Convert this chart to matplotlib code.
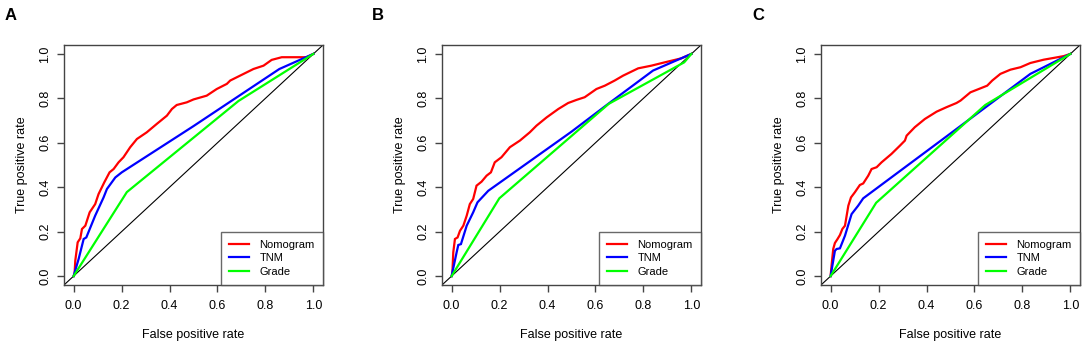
import matplotlib
matplotlib.use("Agg")
import matplotlib.pyplot as plt
from matplotlib.lines import Line2D

plt.rcParams['font.family'] = ['Liberation Sans', 'DejaVu Sans']

panel_labels = ["A", "B", "C"]
series_names = ["Nomogram", "TNM", "Grade"]
series_colors = ["#FF0000", "#0000FF", "#00FF00"]

# Panel A
a_nomo_fpr = [0, 0.004, 0.007, 0.017, 0.028, 0.035, 0.049, 0.067, 0.09, 0.104, 0.128, 0.15, 0.167, 0.1875, 0.208,
              0.236, 0.264, 0.305, 0.347, 0.389, 0.41, 0.43, 0.472, 0.5, 0.555, 0.597, 0.639, 0.653, 0.694, 0.75,
              0.792, 0.826, 0.868, 0.972, 1.0]
a_nomo_tpr = [0, 0.009, 0.069, 0.152, 0.17, 0.212, 0.227, 0.287, 0.324, 0.369, 0.422, 0.467, 0.482, 0.512, 0.535,
              0.58, 0.617, 0.647, 0.685, 0.722, 0.752, 0.77, 0.782, 0.795, 0.812, 0.842, 0.865, 0.88, 0.902, 0.932,
              0.947, 0.973, 0.985, 0.985, 1.0]
a_tnm_fpr = [0, 0.021, 0.042, 0.053, 0.09, 0.125, 0.139, 0.174, 0.201, 0.5, 0.858, 1.0]
a_tnm_tpr = [0, 0.077, 0.167, 0.174, 0.272, 0.354, 0.392, 0.444, 0.467, 0.675, 0.932, 1.0]
a_grade_fpr = [0, 0.222, 0.6875, 1.0]
a_grade_tpr = [0, 0.378, 0.788, 1.0]

# Panel B
b_nomo_fpr = [0, 0.003, 0.007, 0.014, 0.025, 0.035, 0.049, 0.063, 0.076, 0.09, 0.104, 0.125, 0.146, 0.164, 0.18,
              0.208, 0.243, 0.285, 0.326, 0.354, 0.396, 0.445, 0.486, 0.521, 0.555, 0.604, 0.639, 0.68, 0.715,
              0.778, 0.833, 0.889, 0.958, 1.0]
b_nomo_tpr = [0, 0.009, 0.107, 0.167, 0.174, 0.204, 0.227, 0.272, 0.324, 0.347, 0.407, 0.425, 0.452, 0.467, 0.512,
              0.535, 0.58, 0.61, 0.647, 0.677, 0.714, 0.752, 0.779, 0.793, 0.805, 0.842, 0.857, 0.88, 0.902,
              0.935, 0.947, 0.962, 0.98, 1.0]
b_tnm_fpr = [0, 0.021, 0.028, 0.039, 0.063, 0.09, 0.108, 0.153, 0.5, 0.653, 0.84, 1.0]
b_tnm_tpr = [0, 0.107, 0.14, 0.144, 0.227, 0.287, 0.332, 0.384, 0.65, 0.775, 0.925, 1.0]
b_grade_fpr = [0, 0.199, 0.655, 0.97, 1.0]
b_grade_tpr = [0, 0.35, 0.775, 0.962, 1.0]

# Panel C
c_nomo_fpr = [0, 0.004, 0.011, 0.018, 0.029, 0.039, 0.049, 0.06, 0.067, 0.074, 0.085, 0.101, 0.122, 0.136, 0.157,
              0.171, 0.192, 0.2125, 0.254, 0.289, 0.31, 0.317, 0.351, 0.393, 0.442, 0.483, 0.525, 0.542, 0.583,
              0.625, 0.653, 0.674, 0.708, 0.75, 0.792, 0.833, 0.889, 0.931, 0.972, 1.0]
c_nomo_tpr = [0, 0.047, 0.122, 0.149, 0.167, 0.185, 0.212, 0.227, 0.272, 0.317, 0.354, 0.377, 0.41, 0.417, 0.452,
              0.482, 0.49, 0.512, 0.55, 0.587, 0.61, 0.632, 0.67, 0.707, 0.74, 0.76, 0.779, 0.79, 0.827,
              0.845, 0.857, 0.88, 0.91, 0.929, 0.94, 0.959, 0.974, 0.982, 0.99, 1.0]
c_tnm_fpr = [0, 0.018, 0.025, 0.039, 0.06, 0.0875, 0.115, 0.136, 0.5, 0.833, 1.0]
c_tnm_tpr = [0, 0.114, 0.122, 0.125, 0.182, 0.279, 0.317, 0.35, 0.642, 0.91, 1.0]
c_grade_fpr = [0, 0.19, 0.645, 1.0]
c_grade_tpr = [0, 0.33, 0.77, 1.0]

panels = [
    [(a_nomo_fpr, a_nomo_tpr), (a_tnm_fpr, a_tnm_tpr), (a_grade_fpr, a_grade_tpr)],
    [(b_nomo_fpr, b_nomo_tpr), (b_tnm_fpr, b_tnm_tpr), (b_grade_fpr, b_grade_tpr)],
    [(c_nomo_fpr, c_nomo_tpr), (c_tnm_fpr, c_tnm_tpr), (c_grade_fpr, c_grade_tpr)],
]

W, H = 1084, 343
fig = plt.figure(figsize=(W / 100, H / 100), dpi=100)

ax_left_px = [64, 442, 821]
ax_w_px = 259
ax_top_px, ax_bot_px = 45, 285
label_x_px = [5, 372, 752]
spine_col = "#444444"
ticks = [0.0, 0.2, 0.4, 0.6, 0.8, 1.0]

for i, (series, letter) in enumerate(zip(panels, panel_labels)):
    ax = fig.add_axes([ax_left_px[i] / W, (H - ax_bot_px) / H, ax_w_px / W, (ax_bot_px - ax_top_px) / H])
    ax.set_xlim(-0.04, 1.04)
    ax.set_ylim(-0.04, 1.04)
    ax.axline((0, 0), (1, 1), color="black", lw=0.8, zorder=1)
    for (fx, ty), col in zip(series, series_colors):
        ax.plot(fx, ty, color=col, lw=1.6, zorder=2, solid_joinstyle='miter')
    for s in ax.spines.values():
        s.set_color(spine_col)
        s.set_linewidth(1.0)
    ax.set_xticks(ticks)
    ax.set_yticks(ticks)
    ax.set_xticklabels([f"{t:.1f}" for t in ticks])
    ax.set_yticklabels([f"{t:.1f}" for t in ticks], rotation=90, va="center")
    ax.tick_params(direction="out", length=5, width=1.0, color=spine_col, labelsize=9, labelcolor="black")
    ax.tick_params(axis="x", pad=6)
    ax.tick_params(axis="y", pad=4)
    ax.set_xlabel("False positive rate", fontsize=9, labelpad=12)
    ax.set_ylabel("True positive rate", fontsize=9, labelpad=8)
    handles = [Line2D([0], [0], color=c, lw=1.6) for c in series_colors]
    leg = ax.legend(handles, series_names, loc="lower right", fontsize=8, frameon=True, fancybox=False,
                    borderaxespad=0, handlelength=1.8, handletextpad=0.9, labelspacing=0.3, borderpad=0.75)
    leg.get_frame().set_edgecolor(spine_col)
    leg.get_frame().set_linewidth(1.0)
    fig.text(label_x_px[i] / W, 1 - 15 / H, letter, fontsize=12, fontweight="bold", ha="left", va="center")

fig.savefig("out.png", dpi=100)
